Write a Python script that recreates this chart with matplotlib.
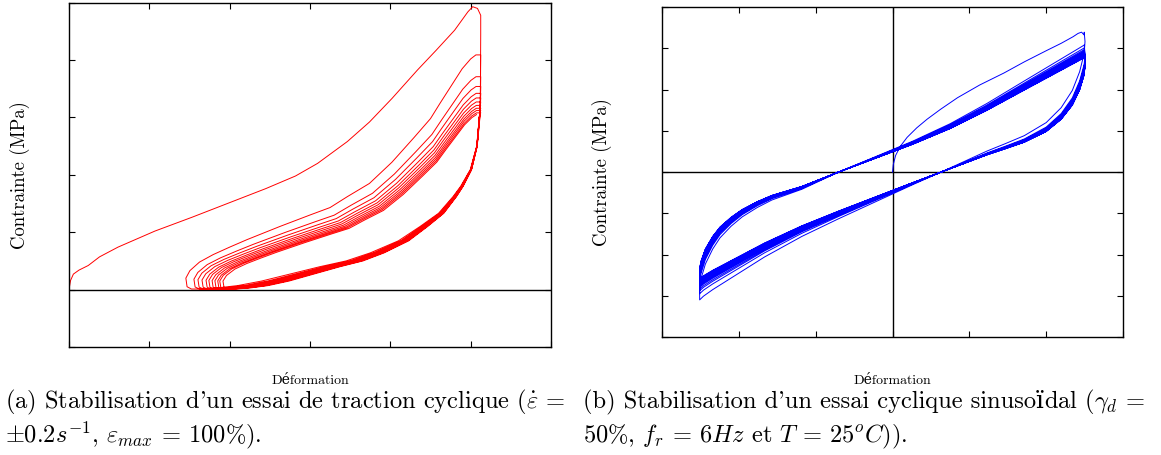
import numpy as np
import matplotlib
matplotlib.use('Agg')
import matplotlib.pyplot as plt

plt.rcParams['font.family'] = ['cmr10', 'DejaVu Serif']
plt.rcParams['mathtext.fontset'] = 'cm'
plt.rcParams['axes.formatter.use_mathtext'] = True

# (a) traction cyclique : first loading up to eps_max
load_a_eps = [0.0, 0.004, 0.011, 0.025, 0.048, 0.076, 0.122, 0.214, 0.306, 0.398,
              0.490, 0.564, 0.619, 0.693, 0.748, 0.804, 0.868, 0.914, 0.960, 0.993,
              1.005, 1.017, 1.025, 1.025]
load_a_sig = [0.0, 0.16, 0.27, 0.34, 0.42, 0.57, 0.74, 1.02, 1.26, 1.51,
              1.76, 1.98, 2.20, 2.58, 2.92, 3.33, 3.83, 4.17, 4.52, 4.84,
              4.93, 4.90, 4.78, 4.45]
# first unloading branch (peak -> minimum strain)
lower_a_eps = [1.025, 1.024, 1.015, 0.999, 0.975, 0.956, 0.920, 0.874, 0.820, 0.750,
               0.690, 0.625, 0.550, 0.480, 0.420, 0.370, 0.330, 0.305]
lower_a_sig = [4.10, 3.20, 2.50, 2.09, 1.80, 1.62, 1.33, 1.10, 0.85, 0.64,
               0.50, 0.40, 0.27, 0.15, 0.07, 0.03, 0.01, 0.01]
# first reloading branch (minimum strain -> peak)
upper_a_eps = [0.294, 0.291, 0.301, 0.325, 0.359, 0.400, 0.443, 0.525, 0.600, 0.650,
               0.693, 0.748, 0.804, 0.859, 0.900, 0.924, 0.979, 1.000, 1.013]
upper_a_sig = [0.05, 0.20, 0.33, 0.48, 0.61, 0.74, 0.87, 1.10, 1.30, 1.43,
               1.62, 1.85, 2.22, 2.65, 2.98, 3.25, 3.85, 4.02, 4.09]
# per cycle: strain at the return point and peak stress
tips_a = [0.294, 0.314, 0.324, 0.334, 0.344, 0.351, 0.359, 0.366, 0.373, 0.378, 0.386]
peaks_a = [4.09, 3.71, 3.54, 3.42, 3.34, 3.27, 3.21, 3.16, 3.12, 3.08, 3.05]

# (b) essai sinusoidal : first loading from rest
load_b_eps = [0.0, 0.002, 0.008, 0.020, 0.038, 0.063, 0.090, 0.125, 0.169, 0.227,
              0.290, 0.343, 0.400, 0.439, 0.470, 0.483, 0.492, 0.499]
load_b_sig = [0.0, 0.18, 0.40, 0.62, 0.84, 1.07, 1.28, 1.52, 1.80, 2.11,
              2.40, 2.67, 2.94, 3.12, 3.28, 3.36, 3.39, 3.32]
# stabilised loop, increasing strain branch
rise_b_eps = [-0.502, -0.502, -0.499, -0.487, -0.468, -0.449, -0.420, -0.391, -0.352, -0.314,
              -0.236, -0.140, 0.0, 0.053, 0.150, 0.246, 0.343, 0.439, 0.478, 0.494, 0.499]
rise_b_sig = [-2.74, -2.50, -2.30, -1.97, -1.65, -1.41, -1.16, -0.96, -0.76, -0.60,
              -0.37, 0.0, 0.53, 0.73, 1.14, 1.62, 2.15, 2.67, 2.88, 2.97, 3.0]
# stabilised loop, decreasing strain branch
fall_b_eps = [0.499, 0.501, 0.499, 0.487, 0.468, 0.439, 0.400, 0.343, 0.294, 0.246,
              0.140, 0.053, 0.0, -0.140, -0.236, -0.333, -0.410, -0.468, -0.492, -0.502]
fall_b_sig = [3.0, 2.80, 2.55, 2.15, 1.75, 1.38, 1.06, 0.78, 0.61, 0.45,
              0.05, -0.27, -0.47, -1.00, -1.38, -1.82, -2.22, -2.52, -2.66, -2.74]
# per cycle: max and min stress
peaks_b = [3.08, 3.01, 2.97, 2.94, 2.92, 2.90, 2.88, 2.87, 2.86, 2.85,
           2.84, 2.83, 2.82, 2.81, 2.80, 2.80, 2.79, 2.78, 2.78, 2.77]
troughs_b = [-3.10, -2.95, -2.88, -2.84, -2.80, -2.77, -2.75, -2.73, -2.71, -2.70,
             -2.68, -2.67, -2.66, -2.65, -2.64, -2.63, -2.62, -2.61, -2.60, -2.59]

cm = 'cmr10'
dv = 'DejaVu Serif'
cap_a = [[(r"(a) Stabilisation d'un essai de traction cyclique ($\dot{\varepsilon}$ =", cm)],
         [(r"$\pm0.2s^{-1}$, $\varepsilon_{max}$ = 100%).", cm)]]
cap_b = [[(r"(b) Stabilisation d'un essai cyclique sinuso", cm), ("ï", dv),
          (r"dal ($\gamma_d$ =", cm)],
         [(r"50%, $f_r$ = $6Hz$ et $T$ = $25^oC$)).", cm)]]


def cycles_a():
  xr = 1.025
  x = list(load_a_eps)
  y = list(load_a_sig)
  lo_e, lo_s = np.array(lower_a_eps), np.array(lower_a_sig)
  up_e, up_s = np.array(upper_a_eps), np.array(upper_a_sig)
  prev = load_a_sig[-1]
  for tip, pk in zip(tips_a, peaks_a):
    # each cycle follows the first loop, pulled to its own return point and peak
    s = (xr - tip)/(xr - tips_a[0])
    ly = np.minimum(lo_s, prev)
    ly[0] = prev
    x += list(tip + (lo_e - tips_a[0])*s)
    y += list(ly)
    x += list(tip + (up_e - tips_a[0])*s)
    y += list(up_s*pk/peaks_a[0])
    prev = pk
  return x, y


def branch_b(e, s, pos, neg):
  s = np.array(s)
  s = np.where(s > 0, s*pos/3.0, s*abs(neg)/2.74)
  return list(e), list(s)


def cycles_b():
  x = list(load_b_eps)
  y = list(load_b_sig)
  prev = 3.39
  for pk, tr in zip(peaks_b, troughs_b):
    e, s = branch_b(fall_b_eps, fall_b_sig, prev, tr)
    x += e
    y += s
    e, s = branch_b(rise_b_eps, rise_b_sig, pk, tr)
    x += e
    y += s
    prev = pk
  return x, y


def style(ax):
  ax.tick_params(direction='in', length=4, width=0.8, top=True, right=True,
                 labelbottom=False, labelleft=False)
  for sp in ax.spines.values():
    sp.set_linewidth(1.0)


def put(fig, xpx, ypx, pieces, size):
  """ write a line made of pieces in different families, left to right """
  r = fig.canvas.get_renderer()
  x = xpx/1161.
  y = 1 - ypx/455.
  for txt, fam in pieces:
    t = fig.text(x, y, txt, fontsize=size, va='baseline', family=fam)
    bb = t.get_window_extent(renderer=r)
    x = fig.transFigure.inverted().transform((bb.x1, bb.y0))[0]


if __name__ == '__main__':
  fig = plt.figure(figsize=(11.61, 4.55), dpi=100)

  ax = fig.add_axes([0.0594, 0.2374, 0.4152, 0.7567])
  xa, ya = cycles_a()
  ax.axhline(0, color='black', lw=1.0)
  ax.plot(xa, ya, color='#ff0000', lw=0.7)
  ax.set_xlim(0, 1.2)
  ax.set_ylim(-1, 5)
  ax.set_xticks(np.arange(0, 1.21, 0.2))
  ax.set_yticks(np.arange(-1, 6, 1))
  style(ax)
  ax.set_ylabel('Contrainte (MPa)', fontsize=13.5, labelpad=28)
  ax.set_xlabel('Déformation', fontsize=10, labelpad=20)

  ax = fig.add_axes([0.5702, 0.2593, 0.3971, 0.7253])
  xb, yb = cycles_b()
  ax.axhline(0, color='black', lw=1.0)
  ax.axvline(0, color='black', lw=1.0)
  ax.plot(xb, yb, color='#0000ff', lw=0.7)
  ax.set_xlim(-0.6, 0.6)
  ax.set_ylim(-4, 4)
  ax.set_xticks(np.arange(-0.6, 0.61, 0.2))
  ax.set_yticks(np.arange(-4, 5, 1))
  style(ax)
  ax.set_ylabel('Contrainte (MPa)', fontsize=13.5, labelpad=36)
  ax.set_xlabel('Déformation', fontsize=10, labelpad=27)

  put(fig, 5, 408, cap_a[0], 17.6)
  put(fig, 5, 442, cap_a[1], 17.6)
  put(fig, 583, 408, cap_b[0], 17.6)
  put(fig, 583, 442, cap_b[1], 17.6)

  fig.savefig('out.png', dpi=100)
